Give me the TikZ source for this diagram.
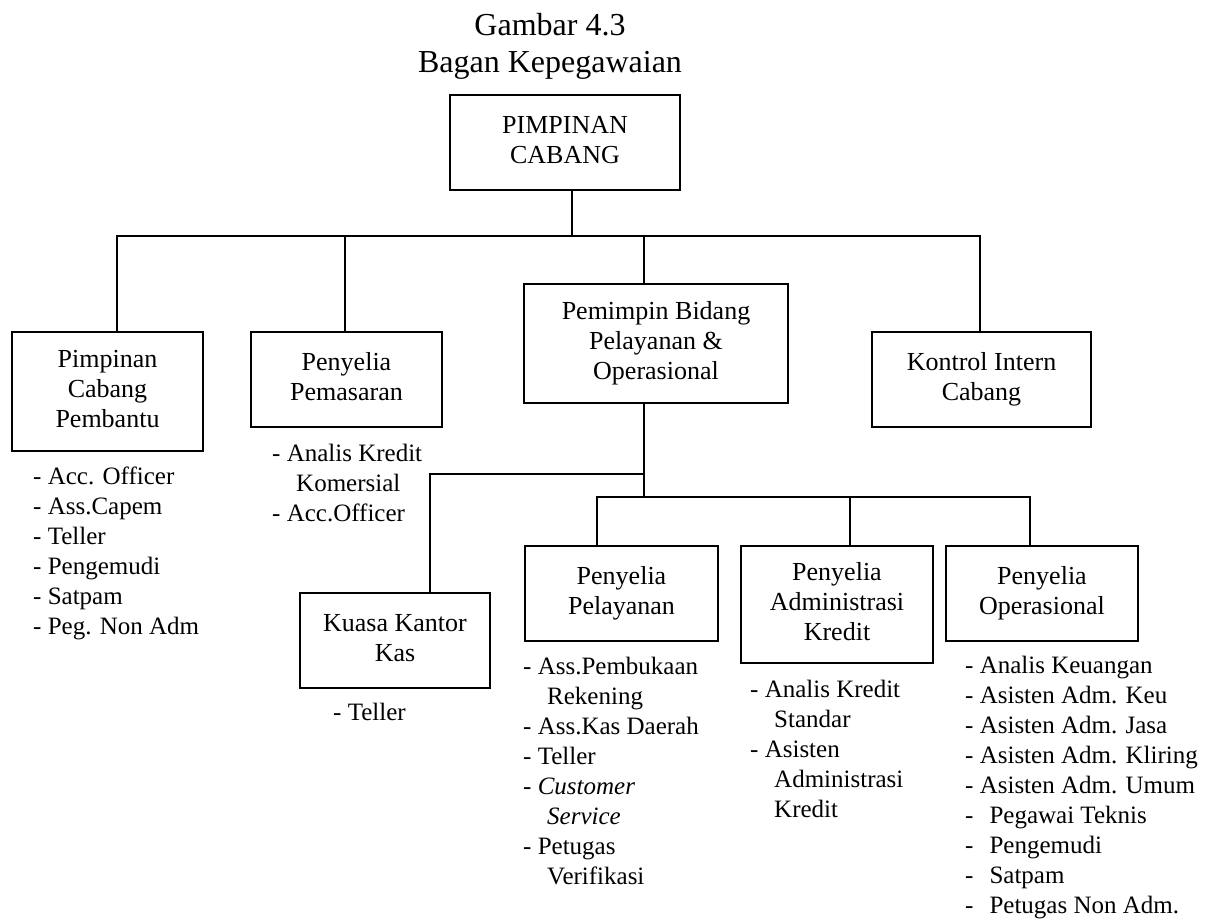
\documentclass[tikz,border=0pt]{standalone}
\usepackage{fontspec}
\setmainfont{Liberation Serif}

% centred lines inside a unit box, optionally lifted a little
\newcommand\boxlines[2][0]{\raisebox{#1pt}{\begin{tabular}{@{}c@{}}#2\end{tabular}}}
% staff list hanging below a unit, first line on the anchor baseline
\newcommand\staff[1]{\begin{tabular}[t]{@{}l@{}}#1\end{tabular}}
% indent for a wrapped list entry
\newcommand\cont{\hspace*{24pt}}

\tikzset{
  unit/.style={draw, line width=1.6pt, inner sep=0pt,
               font=\fontsize{26}{30}\selectfont},
  staffnote/.style={anchor=base west, inner sep=0pt,
               font=\fontsize{25}{30}\selectfont},
  link/.style={line width=1.3pt},
}

\begin{document}
\begin{tikzpicture}[x=1pt, y=-1pt]
\useasboundingbox (0,0) rectangle (1218,921);

% heading
\node[anchor=base, inner sep=0pt, font=\fontsize{32}{37}\selectfont] (title) at (550,35)
  {\begin{tabular}[t]{@{}c@{}}Gambar 4.3\\Bagan Kepegawaian\end{tabular}};

% units
\node[unit, minimum width=230pt, minimum height=95pt]  (pc)  at (565,142.5)  {\boxlines[3.5]{PIMPINAN\\CABANG}};
\node[unit, minimum width=191pt, minimum height=119pt] (pcp) at (107.5,391.5) {\boxlines{Pimpinan\\Cabang\\Pembantu}};
\node[unit, minimum width=191pt, minimum height=95pt]  (pp)  at (346.5,379.5) {\boxlines[3.5]{Penyelia\\Pemasaran}};
\node[unit, minimum width=264pt, minimum height=119pt] (pbo) at (656,343.5)   {\boxlines{Pemimpin Bidang\\Pelayanan \&\\Operasional}};
\node[unit, minimum width=219pt, minimum height=95pt]  (kic) at (981.5,379.5) {\boxlines[3]{Kontrol Intern\\Cabang}};
\node[unit, minimum width=190pt, minimum height=95pt]  (kkk) at (395,640.5)   {\boxlines[4.5]{Kuasa Kantor\\Kas}};
\node[unit, minimum width=193pt, minimum height=95pt]  (pel) at (621.5,593.5) {\boxlines[4.5]{Penyelia\\Pelayanan}};
\node[unit, minimum width=192pt, minimum height=117pt] (adm) at (837,604.5)   {\boxlines{Penyelia\\Administrasi\\Kredit}};
\node[unit, minimum width=192pt, minimum height=95pt]  (ops) at (1042,593.5)  {\boxlines[4.5]{Penyelia\\Operasional}};

% upper distribution bus
\coordinate (busTop)     at (572,236);
\coordinate (dPembantu)  at (117,236);
\coordinate (dPemasaran) at (345,236);
\coordinate (dBidang)    at (644,236);
\coordinate (dKontrol)   at (980,236);
\draw[link] (pc.south -| busTop) -- (busTop);
\draw[link] (pcp.north -| dPembantu) -- (dPembantu) -- (dKontrol) -- (kic.north -| dKontrol);
\draw[link] (dPemasaran) -- (pp.north -| dPemasaran);
\draw[link] (dBidang) -- (pbo.north -| dBidang);

% lower distribution bus
\coordinate (jKas) at (644,474);
\coordinate (tKas) at (430,474);
\coordinate (bus2) at (644,497);
\coordinate (dPel) at (597,497);
\coordinate (dAdm) at (850,497);
\coordinate (dOps) at (1030,497);
\draw[link] (pbo.south -| bus2) -- (bus2);
\draw[link] (jKas) -- (tKas) -- (kkk.north -| tKas);
\draw[link] (pel.north -| dPel) -- (dPel) -- (dOps) -- (ops.north -| dOps);
\draw[link] (dAdm) -- (adm.north -| dAdm);

% staff lists
\node[staffnote] (lpcp) at (33,484)
  {\staff{- Acc. Officer\\- Ass.Capem\\- Teller\\- Pengemudi\\- Satpam\\- Peg. Non Adm}};
\node[staffnote] (lpp) at (272,461)
  {\staff{- Analis Kredit\\\cont Komersial\\- Acc.Officer}};
\node[staffnote] (lkkk) at (333,720)
  {\staff{- Teller}};
\node[staffnote] (lpel) at (523,674)
  {\staff{- Ass.Pembukaan\\\cont Rekening\\- Ass.Kas Daerah\\- Teller\\- \textit{Customer}\\\cont\textit{Service}\\- Petugas\\\cont Verifikasi}};
\node[staffnote] (ladm) at (750,697)
  {\staff{- Analis Kredit\\\cont Standar\\- Asisten\\\cont Administrasi\\\cont Kredit}};
\node[staffnote] (lops) at (965,673)
  {\staff{- Analis Keuangan\\- Asisten Adm. Keu\\- Asisten Adm. Jasa\\- Asisten Adm. Kliring\\- Asisten Adm. Umum\\-\hspace*{16pt}Pegawai Teknis\\-\hspace*{16pt}Pengemudi\\-\hspace*{16pt}Satpam\\-\hspace*{16pt}Petugas Non Adm.}};
\end{tikzpicture}
\end{document}
